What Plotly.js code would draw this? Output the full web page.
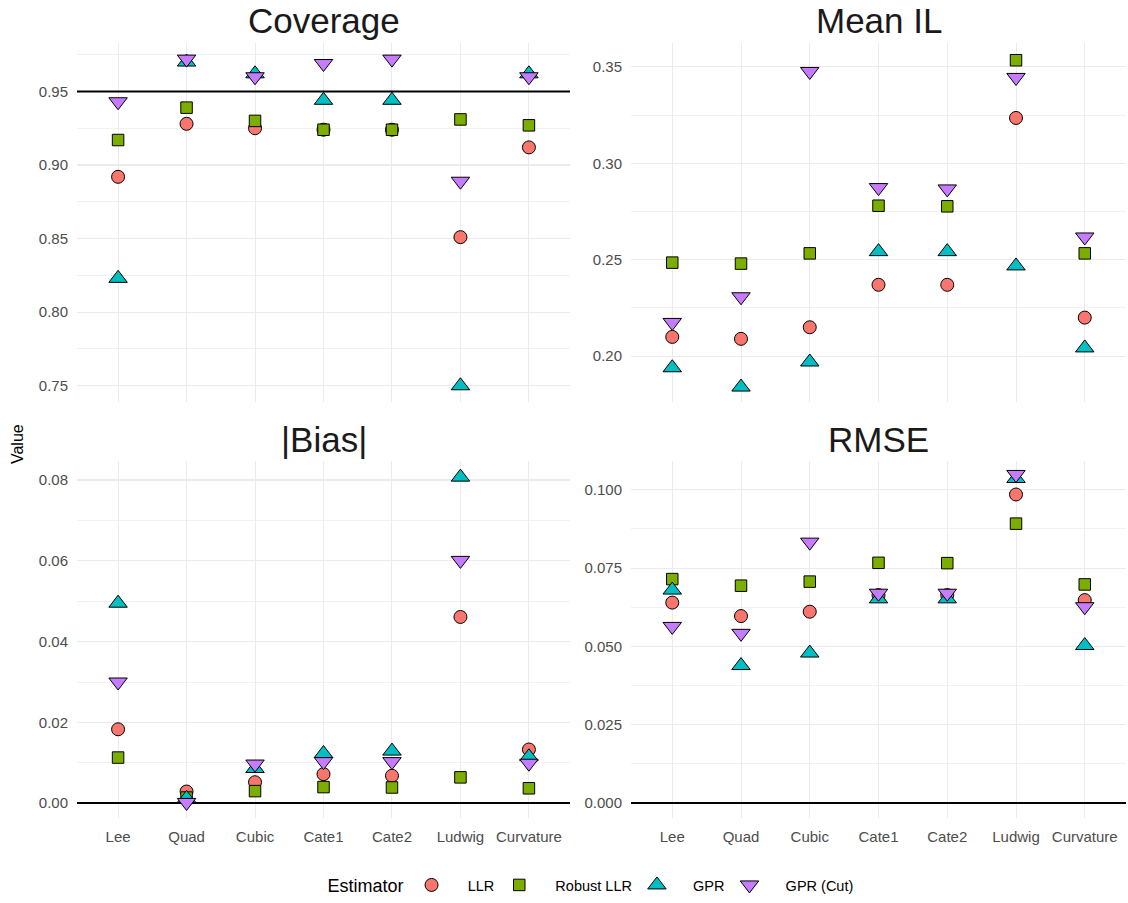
<!DOCTYPE html>
<html>
<head>
<meta charset="utf-8">
<script src="https://cdn.plot.ly/plotly-3.0.1.min.js"></script>
<style>html,body{margin:0;padding:0;background:#fff;}#chart{width:1128px;height:903px;}</style>
</head>
<body>
<div id="chart"></div>
<script>
// ---------- data ----------
const categories = ['Lee', 'Quad', 'Cubic', 'Cate1', 'Cate2', 'Ludwig', 'Curvature'];
const estimators = ['LLR', 'Robust LLR', 'GPR', 'GPR (Cut)'];
const panelTitles = ['Coverage', 'Mean IL', '|Bias|', 'RMSE'];

const coverageLLR    = [0.892, 0.928, 0.925, 0.924, 0.924, 0.851, 0.912];
const coverageRobust = [0.917, 0.939, 0.930, 0.924, 0.924, 0.931, 0.927];
const coverageGPR    = [0.823, 0.970, 0.962, 0.944, 0.944, 0.750, 0.962];
const coverageCut    = [0.943, 0.972, 0.960, 0.969, 0.972, 0.889, 0.960];

const meanIlLLR    = [0.210, 0.209, 0.215, 0.237, 0.237, 0.3235, 0.220];
const meanIlRobust = [0.2485, 0.248, 0.2533, 0.278, 0.2777, 0.3534, 0.2533];
const meanIlGPR    = [0.194, 0.184, 0.197, 0.2542, 0.2542, 0.2468, 0.2043];
const meanIlCut    = [0.2175, 0.2308, 0.3476, 0.2874, 0.2867, 0.3445, 0.2618];

const biasLLR    = [0.0183, 0.0029, 0.0052, 0.0072, 0.0068, 0.0461, 0.0133];
const biasRobust = [0.0113, 0.0014, 0.0030, 0.0040, 0.0039, 0.0064, 0.0037];
const biasGPR    = [0.0495, 0.0012, 0.0086, 0.0123, 0.0129, 0.0807, 0.0115];
const biasCut    = [0.0300, 0.0002, 0.0097, 0.0103, 0.0103, 0.0601, 0.0099];

const rmseLLR    = [0.0640, 0.0597, 0.0611, 0.0664, 0.0664, 0.0985, 0.0648];
const rmseRobust = [0.0715, 0.0694, 0.0707, 0.0767, 0.0766, 0.0892, 0.0698];
const rmseGPR    = [0.0680, 0.0439, 0.0479, 0.0652, 0.0652, 0.1036, 0.0503];
const rmseCut    = [0.0564, 0.0542, 0.0833, 0.0670, 0.0670, 0.1049, 0.0627];

const referenceLines = [0.95, null, 0, 0];

// ---------- styling ----------
const colors  = ['#F8766D', '#7CAE00', '#00BFC4', '#C77CFF'];
const symbols = ['circle', 'square', 'triangle-up', 'triangle-down'];
const sizes   = [13, 11.5, 16, 16];
const FONT = 'Liberation Sans, Arial, Helvetica, sans-serif';
const PAD = '\u00A0\u00A0\u00A0\u00A0';

const panelData = [
  [coverageLLR, coverageRobust, coverageGPR, coverageCut],
  [meanIlLLR, meanIlRobust, meanIlGPR, meanIlCut],
  [biasLLR, biasRobust, biasGPR, biasCut],
  [rmseLLR, rmseRobust, rmseGPR, rmseCut]
];

const traces = [];
panelData.forEach((series, p) => {
  const ax = p === 0 ? '' : String(p + 1);
  series.forEach((vals, s) => {
    traces.push({
      type: 'scatter', mode: 'markers',
      x: categories, y: vals,
      xaxis: 'x' + ax, yaxis: 'y' + ax,
      name: PAD + estimators[s], legendgroup: estimators[s],
      showlegend: p === 0,
      marker: { symbol: symbols[s], size: sizes[s], color: colors[s],
                line: { color: '#000', width: 1 } },
      hoverinfo: 'x+y+name'
    });
  });
});

// panel geometry (pixels -> paper)
const W = 1128, H = 903;
const xDom = [[77 / W, 570 / W], [631 / W, 1126 / W]];
const yDom = [[1 - 403 / H, 1 - 43 / H], [1 - 820 / H, 1 - 462 / H]];
const yRanges = [[0.7389, 0.983], [0.1762, 0.3624], [-0.0037, 0.0847], [-0.0048, 0.1092]];
const dticks = [0.05, 0.05, 0.02, 0.025];
const fmts = ['.2f', '.2f', '.2f', '.3f'];

const layout = {
  width: W, height: H,
  margin: { l: 0, r: 0, t: 0, b: 0 },
  paper_bgcolor: '#fff', plot_bgcolor: '#fff',
  font: { family: FONT, color: '#4d4d4d' },
  showlegend: true,
  legend: {
    orientation: 'h', x: 592 / W, xanchor: 'center', y: 1 - 888 / H, yanchor: 'middle',
    title: { text: 'Estimator', side: 'left', font: { size: 18, color: '#000', family: FONT } },
    font: { size: 14.5, color: '#000', family: FONT },
    itemsizing: 'trace'
  },
  shapes: [], annotations: []
};

for (let p = 0; p < 4; p++) {
  const ax = p === 0 ? '' : String(p + 1);
  const col = p % 2, row = Math.floor(p / 2);
  const ref = referenceLines[p];
  layout['xaxis' + ax] = {
    domain: xDom[col], anchor: 'y' + ax,
    type: 'category', categoryorder: 'array', categoryarray: categories,
    range: [-0.6, 6.6],
    showgrid: true, gridcolor: '#ebebeb', gridwidth: 1,
    zeroline: false, showline: false, ticks: '',
    showticklabels: row === 1,
    tickfont: { size: 15, color: '#4d4d4d', family: FONT },
    ticklabelstandoff: 8
  };
  layout['yaxis' + ax] = {
    domain: yDom[row], anchor: 'x' + ax,
    range: yRanges[p], dtick: dticks[p], tick0: 0, tickformat: fmts[p],
    showgrid: true, gridcolor: '#ebebeb', gridwidth: 1.2,
    minor: { dtick: dticks[p] / 2, tick0: 0, showgrid: true, gridcolor: '#f0f0f0', gridwidth: 0.9, ticks: '' },
    zeroline: ref === 0, zerolinecolor: '#000', zerolinewidth: 2,
    showline: false, ticks: '',
    tickfont: { size: 15, color: '#4d4d4d', family: FONT },
    ticklabelstandoff: 8
  };
  if (ref !== null && ref !== 0) {
    layout.shapes.push({
      type: 'line', layer: 'above',
      xref: 'x' + ax + ' domain', x0: 0, x1: 1,
      yref: 'y' + ax, y0: ref, y1: ref,
      line: { color: '#000', width: 2 }
    });
  }
  layout.annotations.push({
    text: panelTitles[p], showarrow: false,
    xref: 'paper', yref: 'paper',
    x: (xDom[col][0] + xDom[col][1]) / 2, xanchor: 'center',
    y: 1 - (row === 0 ? 21 : 440) / H, yanchor: 'middle',
    font: { size: 35, color: '#1a1a1a', family: FONT }
  });
}
layout.annotations.push({
  text: 'Value', showarrow: false, textangle: -90,
  xref: 'paper', yref: 'paper', x: 17 / W, y: 1 - 445 / H,
  xanchor: 'center', yanchor: 'middle',
  font: { size: 16, color: '#000', family: FONT }
});

Plotly.newPlot('chart', traces, layout, { displayModeBar: false, staticPlot: true });
</script>
</body>
</html>
